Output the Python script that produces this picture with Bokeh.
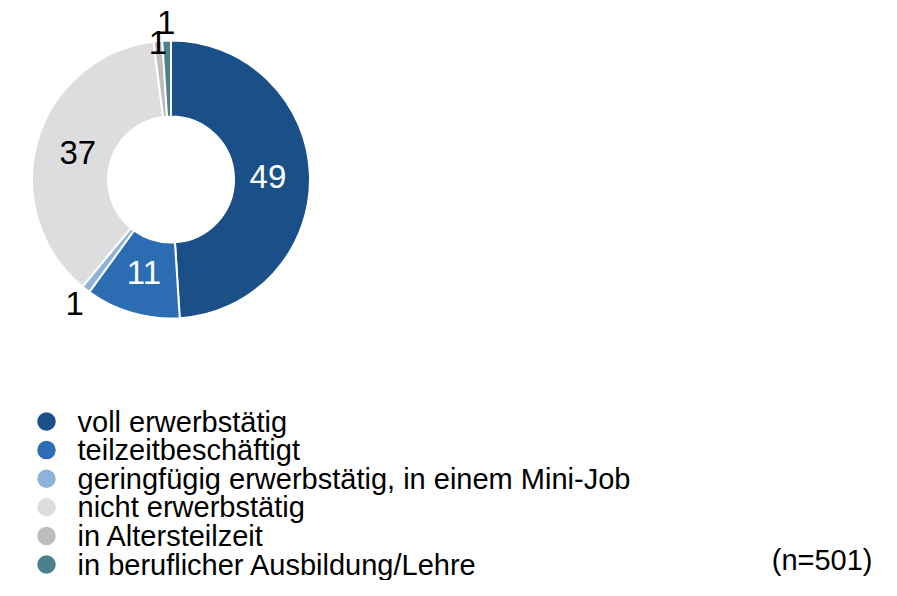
import math
from bokeh.plotting import figure
from bokeh.models import Range1d, ColumnDataSource
from bokeh.core.properties import value
from bokeh.embed import file_html
from bokeh.resources import INLINE

# ---------------- data ----------------
categories = [
    "voll erwerbstätig",
    "teilzeitbeschäftigt",
    "geringfügig erwerbstätig, in einem Mini-Job",
    "nicht erwerbstätig",
    "in Altersteilzeit",
    "in beruflicher Ausbildung/Lehre",
]
shares = [49, 11, 1, 37, 1, 1]
sample_note = "(n=501)"

# ---------------- style ----------------
colors = ["#1b4f87", "#2b6cb3", "#8db3da", "#dddde0", "#bdbdbd", "#4a818c"]
FONT = value("Liberation Sans")
W, H = 881, 580

def px(X):  # picture x -> data x
    return X

def py(Y):  # picture y -> data y (y up)
    return H - Y

p = figure(width=W, height=H, x_range=Range1d(0, W), y_range=Range1d(0, H),
           output_backend="svg", toolbar_location=None,
           x_axis_location=None, y_axis_location=None, min_border=0)
p.grid.visible = False
p.outline_line_color = None
p.background_fill_color = "white"

# donut geometry
cx, cy = px(170.5), py(179)
r_in, r_out = 63, 139

total = float(sum(shares))
starts, ends, mids = [], [], []
cum = 0.0
for v in shares:
    a0 = cum / total * 2 * math.pi
    cum += v
    a1 = cum / total * 2 * math.pi
    starts.append(math.pi / 2 - a1)
    ends.append(math.pi / 2 - a0)
    mids.append((a0 + a1) / 2)

wsrc = ColumnDataSource(dict(start=starts, end=ends, color=colors, cat=categories))
p.annular_wedge(x=cx, y=cy, inner_radius=r_in, outer_radius=r_out,
                start_angle="start", end_angle="end", direction="anticlock",
                fill_color="color", line_color="white", line_width=2, source=wsrc)

# slice labels
radii = [97 if v >= 5 else 157 for v in shares]
for i in range(len(shares) - 1):
    if shares[i] < 5 and shares[i + 1] < 5:
        radii[i] -= 19
lx = [cx + r * math.sin(m) for r, m in zip(radii, mids)]
ly = [cy + r * math.cos(m) for r, m in zip(radii, mids)]
lcol = ["white" if c in ("#1b4f87", "#2b6cb3") else "black" for c in colors]
lsrc = ColumnDataSource(dict(x=lx, y=ly, t=[str(v) for v in shares], c=lcol))
p.text(x="x", y="y", text="t", text_color="c", source=lsrc,
       text_font=FONT, text_font_size=value("33px"),
       text_align="center", text_baseline="middle")

# legend
row0, step = 421, 28.6
rows_y = [py(row0 + step * i) for i in range(len(categories))]
gsrc = ColumnDataSource(dict(x=[px(46)] * len(categories), y=rows_y, color=colors,
                             tx=[px(77)] * len(categories), cat=categories))
p.scatter(x="x", y="y", size=20, fill_color="color", line_color="white",
          line_width=1.5, source=gsrc)
p.text(x="tx", y="y", text="cat", source=gsrc, text_color="black",
       text_font=FONT, text_font_size=value("29px"),
       text_align="left", text_baseline="middle")

# sample size note
p.text(x=[px(872)], y=[rows_y[-1] + 5], text=[sample_note], text_color="black",
       text_font=FONT, text_font_size=value("29px"),
       text_align="right", text_baseline="middle")

open("out.html", "w").write(file_html(p, INLINE))
